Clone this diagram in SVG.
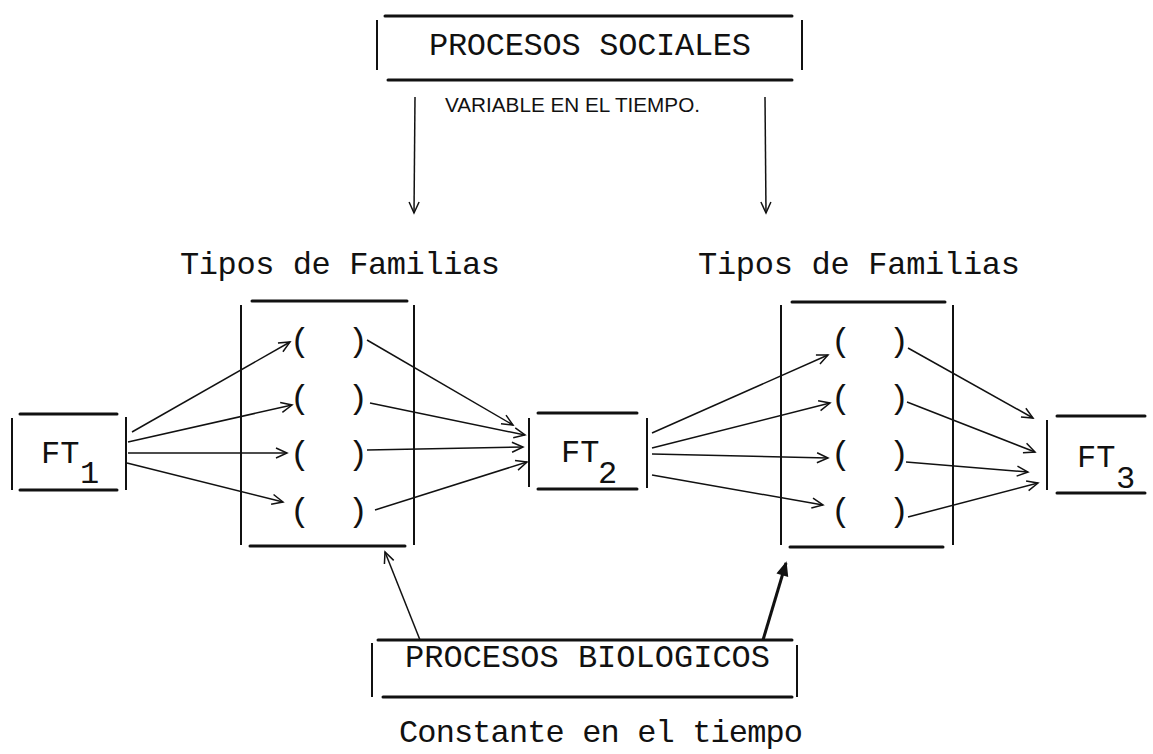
<svg xmlns="http://www.w3.org/2000/svg" width="1153" height="754" viewBox="0 0 1153 754">
<style>
.mono{font-family:"Liberation Mono","Courier New",monospace;font-size:32px;fill:#111}
.narrow{font-family:"Liberation Sans Narrow","Liberation Sans",sans-serif;font-size:20px;fill:#111}
.hl{stroke:#111;stroke-width:3;fill:none;stroke-linecap:round}
.vl{stroke:#111;stroke-width:2;fill:none}
.con{stroke:#111;stroke-width:1.5;fill:none;marker-end:url(#arr)}
.br{font-family:"Liberation Mono","Courier New",monospace;font-size:34px;fill:#111;text-anchor:middle}
</style>
<defs>
<marker id="arr" viewBox="-12 -7 14 14" refX="0" refY="0" markerWidth="14" markerHeight="14" markerUnits="userSpaceOnUse" orient="auto">
<path d="M-11,-5 L0,0 L-11,5" fill="none" stroke="#111" stroke-width="1.5"/>
</marker>
<marker id="arrb" viewBox="-14 -8 16 16" refX="0" refY="0" markerWidth="16" markerHeight="16" markerUnits="userSpaceOnUse" orient="auto">
<path d="M-12,-5 L0,0 L-12,5 Z" fill="#111" stroke="#111" stroke-width="1.5"/>
</marker>
</defs>
<rect width="1153" height="754" fill="#fff"/>

<g id="procesos-sociales">
<line class="hl" x1="385" y1="16" x2="792" y2="16"/>
<line class="hl" x1="388" y1="80" x2="792" y2="80"/>
<line class="vl" x1="377" y1="20" x2="377" y2="70"/>
<line class="vl" x1="802" y1="20" x2="802" y2="70"/>
<text class="mono" x="429" y="55" textLength="322" lengthAdjust="spacing">PROCESOS SOCIALES</text>
</g>

<g id="variable-label">
<text class="narrow" x="445" y="112" textLength="255" lengthAdjust="spacingAndGlyphs">VARIABLE EN EL TIEMPO.</text>
</g>

<g id="heading-1">
<text class="mono" x="180" y="274" textLength="320" lengthAdjust="spacing">Tipos de Familias</text>
</g>
<g id="heading-2">
<text class="mono" x="698" y="274" textLength="322" lengthAdjust="spacing">Tipos de Familias</text>
</g>

<g id="ft1">
<line class="hl" x1="20" y1="414" x2="117" y2="414"/>
<line class="hl" x1="20" y1="490" x2="117" y2="490"/>
<line class="vl" x1="12" y1="418" x2="12" y2="490"/>
<line class="vl" x1="126" y1="417" x2="126" y2="490"/>
<text class="mono" x="41" y="463">FT</text>
<text class="mono" x="80" y="483">1</text>
</g>

<g id="tipos-1">
<line class="hl" x1="252" y1="301" x2="407" y2="301"/>
<line class="hl" x1="250" y1="546" x2="405" y2="546"/>
<line class="vl" x1="241" y1="305" x2="241" y2="545"/>
<line class="vl" x1="414" y1="305" x2="414" y2="545"/>
<text class="br" x="300" y="351">(</text><text class="br" x="358" y="351">)</text>
<text class="br" x="300" y="408">(</text><text class="br" x="358" y="408">)</text>
<text class="br" x="300" y="464">(</text><text class="br" x="358" y="464">)</text>
<text class="br" x="300" y="521">(</text><text class="br" x="358" y="521">)</text>
</g>

<g id="ft2">
<line class="hl" x1="538" y1="413" x2="637" y2="413"/>
<line class="hl" x1="538" y1="489" x2="637" y2="489"/>
<line class="vl" x1="529" y1="418" x2="529" y2="487"/>
<line class="vl" x1="647" y1="418" x2="647" y2="488"/>
<text class="mono" x="561" y="462">FT</text>
<text class="mono" x="598" y="483">2</text>
</g>

<g id="tipos-2">
<line class="hl" x1="792" y1="302" x2="945" y2="302"/>
<line class="hl" x1="790" y1="547" x2="943" y2="547"/>
<line class="vl" x1="781" y1="305" x2="781" y2="545"/>
<line class="vl" x1="953" y1="305" x2="953" y2="545"/>
<text class="br" x="841" y="351">(</text><text class="br" x="899" y="351">)</text>
<text class="br" x="841" y="408">(</text><text class="br" x="899" y="408">)</text>
<text class="br" x="841" y="464">(</text><text class="br" x="899" y="464">)</text>
<text class="br" x="841" y="521">(</text><text class="br" x="899" y="521">)</text>
</g>

<g id="ft3">
<line class="hl" x1="1057" y1="416" x2="1145" y2="416"/>
<line class="hl" x1="1057" y1="493" x2="1145" y2="493"/>
<line class="vl" x1="1047" y1="420" x2="1047" y2="490"/>
<text class="mono" x="1077" y="467">FT</text>
<text class="mono" x="1116" y="488">3</text>
</g>

<g id="procesos-biologicos">
<line class="hl" x1="378" y1="640" x2="792" y2="640"/>
<line class="hl" x1="383" y1="697" x2="792" y2="697"/>
<line class="vl" x1="372" y1="643" x2="372" y2="697"/>
<line class="vl" x1="797" y1="645" x2="797" y2="697"/>
<text class="mono" x="405" y="667" textLength="365" lengthAdjust="spacing">PROCESOS BIOLOGICOS</text>
</g>

<g id="constante-label">
<text class="mono" x="399" y="742" font-size="31" textLength="404" lengthAdjust="spacing">Constante en el tiempo</text>
</g>

<g id="connectors">
<line class="con" x1="415" y1="97" x2="414" y2="213" stroke-width="2"/>
<line class="con" x1="765" y1="97" x2="766" y2="213" stroke-width="2"/>

<line class="con" x1="132" y1="432" x2="290" y2="342"/>
<line class="con" x1="128" y1="442" x2="292" y2="405"/>
<line class="con" x1="128" y1="453" x2="287" y2="453"/>
<line class="con" x1="127" y1="463" x2="283" y2="502"/>

<line class="con" x1="367" y1="340" x2="513" y2="425"/>
<line class="con" x1="370" y1="403" x2="525" y2="435"/>
<line class="con" x1="367" y1="450" x2="523" y2="447"/>
<line class="con" x1="375" y1="510" x2="527" y2="462"/>

<line class="con" x1="652" y1="433" x2="828" y2="355"/>
<line class="con" x1="652" y1="448" x2="830" y2="403"/>
<line class="con" x1="652" y1="454" x2="828" y2="458"/>
<line class="con" x1="652" y1="475" x2="823" y2="505"/>

<line class="con" x1="908" y1="348" x2="1033" y2="418"/>
<line class="con" x1="907" y1="402" x2="1035" y2="452"/>
<line class="con" x1="906" y1="462" x2="1028" y2="472"/>
<line class="con" x1="908" y1="517" x2="1038" y2="483"/>

<line class="con" x1="420" y1="640" x2="385" y2="552" stroke-width="2"/>
<line x1="763" y1="640" x2="786" y2="563" stroke="#111" stroke-width="3" marker-end="url(#arrb)"/>
</g>
</svg>
